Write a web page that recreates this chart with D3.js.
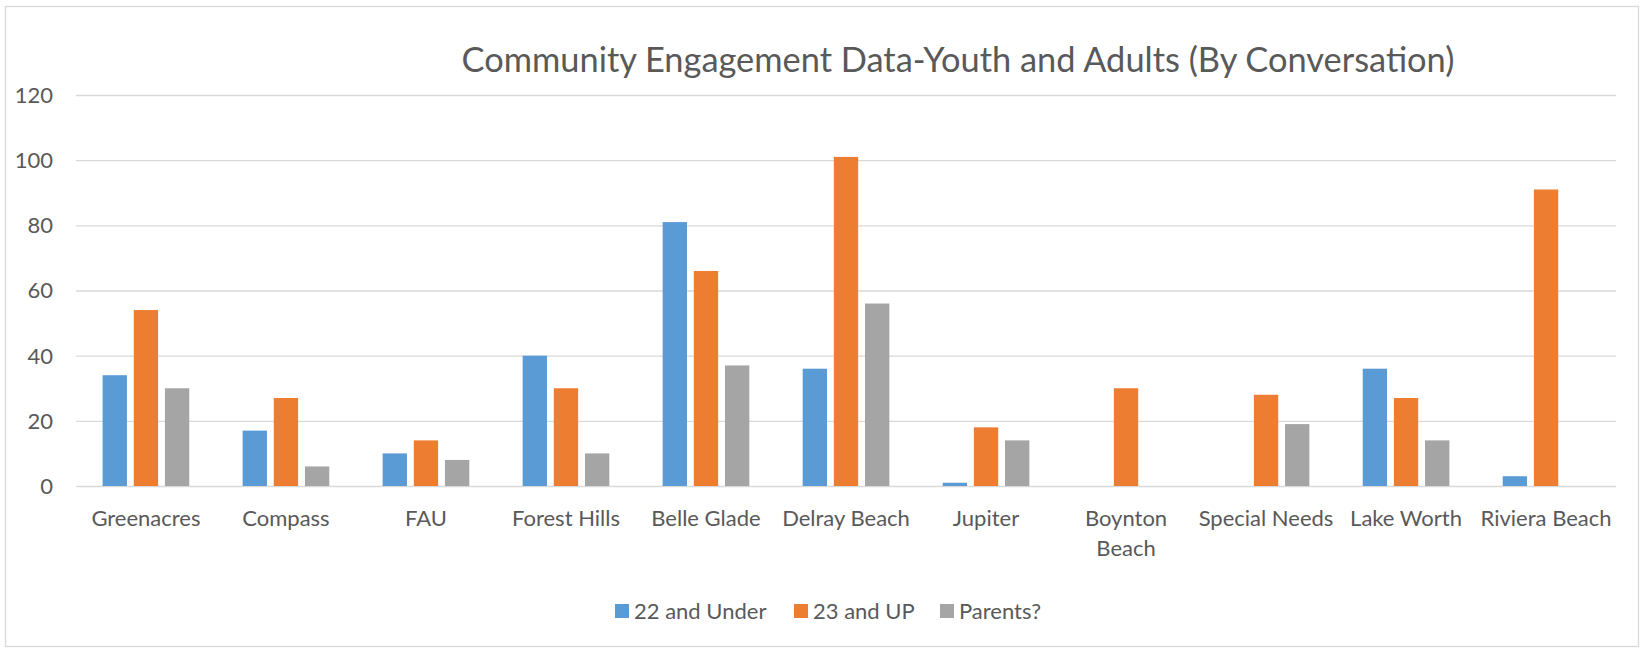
<!DOCTYPE html>
<html>
<head>
<meta charset="utf-8">
<script src="https://cdn.jsdelivr.net/npm/d3@7"></script>
<style>
  body { margin: 0; background: #fff; }
  text { font-family: Lato, "Open Sans", sans-serif; fill: #595959; }
  .grid line { stroke: #d9d9d9; stroke-width: 1.3; }
  .grid path { display: none; }
</style>
</head>
<body>
<svg id="chart" width="1650" height="649"></svg>
<script>
// chart data
const sites = ["Greenacres", "Compass", "FAU", "Forest Hills", "Belle Glade", "Delray Beach",
  "Jupiter", "Boynton Beach", "Special Needs", "Lake Worth", "Riviera Beach"];
const seriesNames = ["22 and Under", "23 and UP", "Parents?"];
const under22 = [34, 17, 10, 40, 81, 36, 1, 0, 0, 36, 3];
const up23 = [54, 27, 14, 30, 66, 101, 18, 30, 28, 27, 91];
const parents = [30, 6, 8, 10, 37, 56, 14, 0, 19, 14, 0];
const yTicks = [0, 20, 40, 60, 80, 100, 120];
const colors = ["#5b9bd5", "#ed7d31", "#a5a5a5"];

const series = [under22, up23, parents];

const svg = d3.select('#chart');

// outer frame
svg.append('rect')
  .attr('x', 5.5).attr('y', 6.5)
  .attr('width', 1633).attr('height', 640)
  .attr('fill', '#fff')
  .attr('stroke', '#d9d9d9')
  .attr('stroke-width', 1.3);

const plot = { left: 76, right: 1616, top: 95, bottom: 486 };

svg.append('text')
  .attr('x', 958)
  .attr('y', 72)
  .attr('text-anchor', 'middle')
  .style('font-size', '34.4px')
  .text('Community Engagement Data-Youth and Adults (By Conversation)');

const yScale = d3.scaleLinear()
  .domain([0, 120])
  .range([plot.bottom, plot.top]);

const xScale = d3.scaleBand()
  .domain(sites)
  .range([plot.left, plot.right])
  .paddingInner(0.381)
  .paddingOuter(0.19);

const xInner = d3.scaleBand()
  .domain(d3.range(series.length))
  .range([0, xScale.bandwidth()])
  .paddingInner(0.219)
  .paddingOuter(0);

// gridlines
svg.append('g')
  .attr('class', 'grid')
  .attr('transform', `translate(${plot.left}, 0)`)
  .call(d3.axisLeft(yScale)
    .tickValues(yTicks)
    .tickSize(-(plot.right - plot.left))
    .tickFormat(''));

// y labels
svg.append('g')
  .selectAll('text')
  .data(yTicks)
  .enter()
  .append('text')
  .attr('x', 53)
  .attr('y', d => yScale(d))
  .attr('dy', '0.36em')
  .attr('text-anchor', 'end')
  .style('font-size', '22px')
  .text(d => d);

// bars
series.forEach((values, s) => {
  svg.append('g')
    .selectAll('rect')
    .data(values)
    .enter()
    .append('rect')
    .attr('x', (d, i) => xScale(sites[i]) + xInner(s))
    .attr('y', d => yScale(d))
    .attr('width', xInner.bandwidth())
    .attr('height', d => yScale(0) - yScale(d))
    .attr('fill', colors[s]);
});

// category labels (wrap Boynton Beach like the original)
const labelLines = { "Boynton Beach": ["Boynton", "Beach"] };
const xLabels = svg.append('g')
  .selectAll('text')
  .data(sites)
  .enter()
  .append('text')
  .attr('text-anchor', 'middle')
  .attr('x', d => xScale(d) + xScale.bandwidth() / 2)
  .attr('y', 526)
  .style('font-size', '22px');

xLabels.each(function(d) {
  const lines = labelLines[d] || [d];
  const t = d3.select(this);
  lines.forEach((ln, k) => {
    t.append('tspan')
      .attr('x', xScale(d) + xScale.bandwidth() / 2)
      .attr('dy', k === 0 ? 0 : 30)
      .text(ln);
  });
});

// legend
const legend = svg.append('g').attr('transform', 'translate(0, 611)');
const legendX = [615, 794, 940];
seriesNames.forEach((name, s) => {
  legend.append('rect')
    .attr('x', legendX[s]).attr('y', -7)
    .attr('width', 14).attr('height', 14)
    .attr('fill', colors[s]);
  legend.append('text')
    .attr('x', legendX[s] + 19)
    .attr('y', 0)
    .attr('dy', '0.35em')
    .style('font-size', '22px')
    .text(name);
});
</script>
</body>
</html>
